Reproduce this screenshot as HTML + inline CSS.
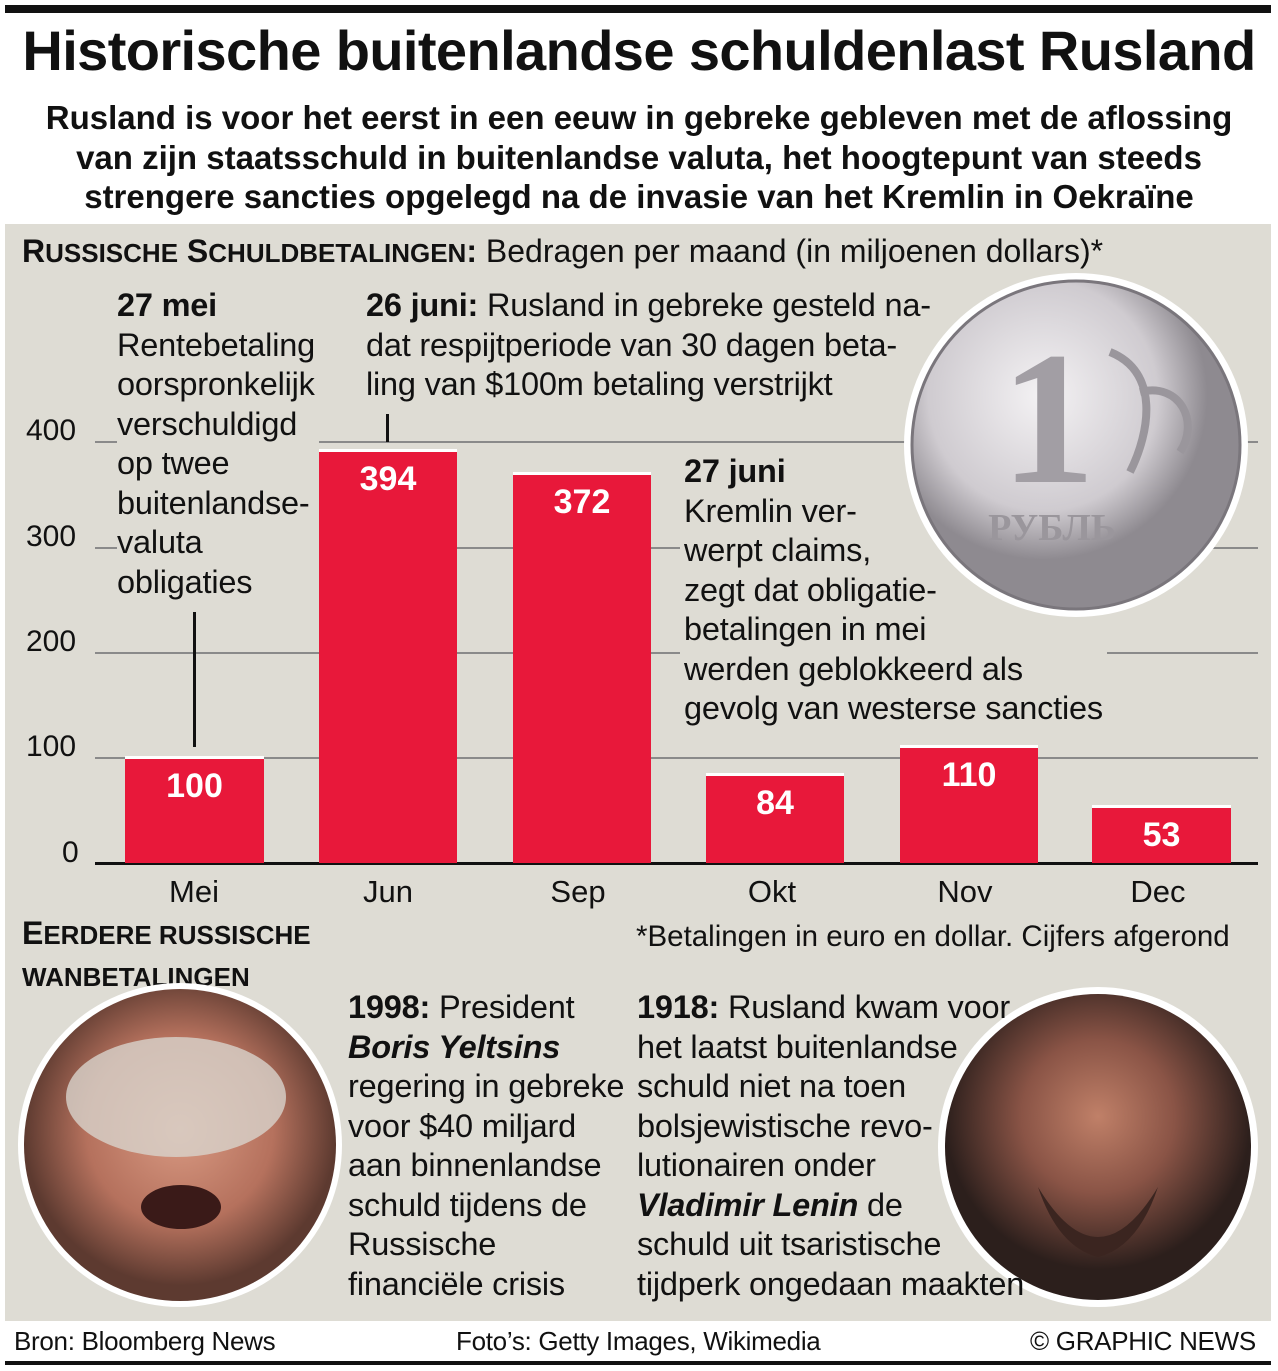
<!DOCTYPE html>
<html><head><meta charset="utf-8"><style>
body{margin:0;width:1278px;height:1371px;background:#fff;position:relative;overflow:hidden;font-family:"Liberation Sans",sans-serif;color:#111}
.a{position:absolute;white-space:nowrap}
.t{font-size:32.5px;line-height:39.5px;letter-spacing:-0.2px}
b{font-weight:bold}
.bar{position:absolute;background:#e8183a;border-top:3px solid #fff}
.bv{position:absolute;color:#fff;font-weight:bold;font-size:34px;text-align:center;width:100%;top:8px}
.g{position:absolute;height:2px;background:#8a8a8a}
.m{position:absolute;font-size:31px;width:140px;text-align:center;top:874px}
.yl{position:absolute;font-size:30px;left:26px}
</style></head><body>
<div class="a" style="left:5px;top:5px;width:1266px;height:8px;background:#111"></div>
<div class="a" style="left:0;width:1278px;top:18px;text-align:center;font-weight:bold;font-size:56px;letter-spacing:-0.6px">Historische buitenlandse schuldenlast Rusland</div>
<div class="a" style="left:0;width:1278px;top:98px;text-align:center;font-weight:bold;font-size:33px;line-height:39.5px;letter-spacing:0px">Rusland is voor het eerst in een eeuw in gebreke gebleven met de aflossing<br>van zijn staatsschuld in buitenlandse valuta, het hoogtepunt van steeds<br>strengere sancties opgelegd na de invasie van het Kremlin in Oekraïne</div>
<div class="a" style="left:5px;top:224px;width:1266px;height:1097px;background:#dedcd4"></div>
<div class="a" style="left:22px;top:233px;font-size:32px;letter-spacing:0px"><b>R<span style="font-size:26px">USSISCHE</span> S<span style="font-size:26px">CHULDBETALINGEN</span>:</b> Bedragen per maand (in miljoenen dollars)*</div>
<div class="g" style="left:95px;width:1163px;top:441px"></div>
<div class="g" style="left:95px;width:1163px;top:547px"></div>
<div class="g" style="left:95px;width:1163px;top:652px"></div>
<div class="g" style="left:95px;width:1163px;top:757px"></div>
<div class="g" style="left:95px;width:1163px;top:862px;background:#111;height:3px"></div>
<div class="yl" style="top:414px">400</div>
<div class="yl" style="top:520px">300</div>
<div class="yl" style="top:625px">200</div>
<div class="yl" style="top:730px">100</div>
<div class="yl" style="top:836px;left:62px">0</div>
<div class="a t" style="left:117px;top:286px;background:#dedcd4;padding-right:4px"><b>27 mei</b><br>Rentebetaling<br>oorspronkelijk<br>verschuldigd<br>op twee<br>buitenlandse-<br>valuta<br>obligaties</div>
<div class="a" style="left:193px;top:612px;width:3px;height:135px;background:#111"></div>
<div class="a t" style="left:366px;top:286px;background:#dedcd4"><b>26 juni:</b> Rusland in gebreke gesteld na-<br>dat respijtperiode van 30 dagen beta-<br>ling van $100m betaling verstrijkt</div>
<div class="a" style="left:386px;top:414px;width:3px;height:28px;background:#111"></div>
<div class="a t" style="left:680px;top:452px;background:#dedcd4;padding:0 4px"><b>27 juni</b><br>Kremlin ver-<br>werpt claims,<br>zegt dat obligatie-<br>betalingen in mei<br>werden geblokkeerd als<br>gevolg van westerse sancties</div>
<svg class="a" style="left:900px;top:272px" width="350" height="350">
<defs><radialGradient id="c" cx="40%" cy="35%"><stop offset="0" stop-color="#f4f2f4"/><stop offset="0.7" stop-color="#cfcbd0"/><stop offset="1" stop-color="#8e8a90"/></radialGradient></defs>
<circle cx="176" cy="173" r="172" fill="#fff"/>
<circle cx="176" cy="173" r="164" fill="url(#c)" stroke="#7a767c" stroke-width="3"/>
<text x="148" y="210" font-family="Liberation Serif" font-weight="bold" font-size="190" fill="#a29ea4" text-anchor="middle">1</text>
<text x="152" y="268" font-family="Liberation Serif" font-weight="bold" font-size="38" fill="#9a969c" text-anchor="middle">РУБЛЬ</text>
<path d="M210 80 C260 100 250 160 230 200 M240 120 C280 110 300 150 280 180" stroke="#9a969c" stroke-width="8" fill="none"/>
</svg>
<div class="bar" style="left:125px;width:139px;top:756px;height:104px"><div class="bv">100</div></div>
<div class="bar" style="left:319px;width:138px;top:449px;height:411px"><div class="bv">394</div></div>
<div class="bar" style="left:513px;width:138px;top:472px;height:388px"><div class="bv">372</div></div>
<div class="bar" style="left:706px;width:138px;top:773px;height:87px"><div class="bv">84</div></div>
<div class="bar" style="left:900px;width:138px;top:745px;height:115px"><div class="bv">110</div></div>
<div class="bar" style="left:1092px;width:139px;top:805px;height:55px"><div class="bv" style="top:8px">53</div></div>
<div class="m" style="left:124px">Mei</div>
<div class="m" style="left:318px">Jun</div>
<div class="m" style="left:508px">Sep</div>
<div class="m" style="left:702px">Okt</div>
<div class="m" style="left:895px">Nov</div>
<div class="m" style="left:1088px">Dec</div>
<div class="a" style="left:636px;top:920px;font-size:29.5px;letter-spacing:0px">*Betalingen in euro en dollar. Cijfers afgerond</div>
<div class="a" style="left:22px;top:913px;font-size:32px;line-height:40px;font-weight:bold">E<span style="font-size:26px">ERDERE RUSSISCHE</span><br><span style="font-size:26px">WANBETALINGEN</span></div>
<svg class="a" style="left:16px;top:982px" width="330" height="330">
<defs><radialGradient id="y" cx="50%" cy="45%"><stop offset="0" stop-color="#d99a83"/><stop offset="0.6" stop-color="#b5715d"/><stop offset="1" stop-color="#5d3a30"/></radialGradient></defs>
<circle cx="164" cy="163" r="162" fill="#fff"/><circle cx="164" cy="163" r="156" fill="url(#y)"/>
<ellipse cx="160" cy="115" rx="110" ry="60" fill="#d8d3cc" opacity="0.8"/>
<ellipse cx="165" cy="225" rx="40" ry="22" fill="#3a1a18"/></svg>
<svg class="a" style="left:938px;top:987px" width="322" height="322">
<defs><radialGradient id="l" cx="50%" cy="40%"><stop offset="0" stop-color="#c08068"/><stop offset="0.5" stop-color="#8a5446"/><stop offset="1" stop-color="#2c1f1c"/></radialGradient></defs>
<circle cx="160" cy="160" r="160" fill="#fff"/><circle cx="160" cy="160" r="153" fill="url(#l)"/>
<path d="M100 200 Q160 300 220 200 Q200 260 160 270 Q120 260 100 200Z" fill="#3b2520"/></svg>
<div class="a t" style="left:348px;top:988px"><b>1998:</b> President<br><b><i>Boris Yeltsins</i></b><br>regering in gebreke<br>voor $40 miljard<br>aan binnenlandse<br>schuld tijdens de<br>Russische<br>financiële crisis</div>
<div class="a t" style="left:637px;top:988px"><b>1918:</b> Rusland kwam voor<br>het laatst buitenlandse<br>schuld niet na toen<br>bolsjewistische revo-<br>lutionairen onder<br><b><i>Vladimir Lenin</i></b> de<br>schuld uit tsaristische<br>tijdperk ongedaan maakten</div>
<div class="a" style="left:14px;top:1326px;font-size:26px;letter-spacing:-0.3px">Bron: Bloomberg News</div>
<div class="a" style="left:456px;top:1326px;font-size:26px;letter-spacing:-0.3px">Foto’s: Getty Images, Wikimedia</div>
<div class="a" style="left:1030px;top:1326px;font-size:26px;letter-spacing:-0.3px">© GRAPHIC NEWS</div>
<div class="a" style="left:5px;top:1361px;width:1266px;height:4px;background:#111"></div>
</body></html>
